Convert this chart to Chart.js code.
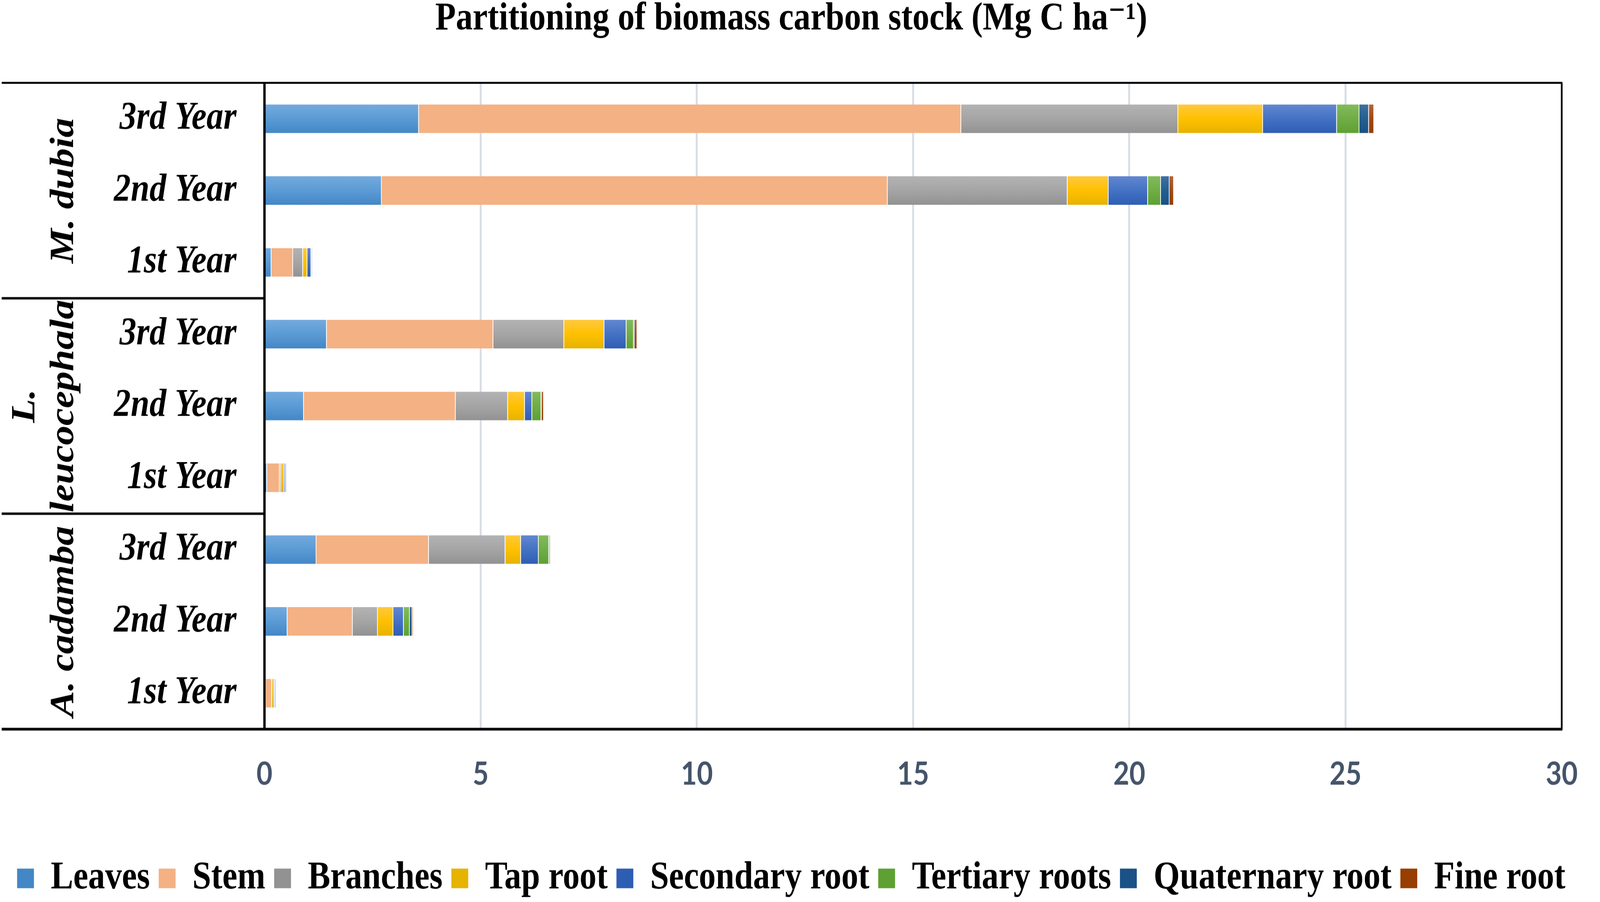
<!DOCTYPE html>
<html>
<head>
<meta charset="utf-8">
<title>Partitioning of biomass carbon stock</title>
<script src="https://cdn.jsdelivr.net/npm/chart.js@4.4.1/dist/chart.umd.min.js"></script>
<style>
  html, body { margin: 0; padding: 0; background: #fff; overflow: hidden; }
  #myChart { display: block; }
</style>
</head>
<body>
<canvas id="myChart" width="4749" height="2309"></canvas>
<script>
// rows top to bottom
var yearLabels = ['3rd Year', '2nd Year', '1st Year', '3rd Year', '2nd Year', '1st Year', '3rd Year', '2nd Year', '1st Year'];
var groupNames = [['M. dubia'], ['L.', 'leucocephala'], ['A. cadamba']];
var groupSizes = [3, 3, 3];
var xTicks = [0, 5, 10, 15, 20, 25, 30];

// Mg C / ha
var leaves     = [3.57, 2.71, 0.16, 1.44, 0.91, 0.06, 1.20, 0.53, 0.03];
var stem       = [12.54, 11.70, 0.50, 3.85, 3.51, 0.29, 2.60, 1.51, 0.14];
var branches   = [5.02, 4.16, 0.23, 1.64, 1.21, 0.03, 1.77, 0.58, 0.01];
var tapRoot    = [1.96, 0.95, 0.10, 0.93, 0.39, 0.08, 0.36, 0.36, 0.05];
var secondary  = [1.71, 0.91, 0.09, 0.51, 0.17, 0.02, 0.41, 0.24, 0.01];
var tertiary   = [0.52, 0.30, 0.01, 0.17, 0.21, 0.02, 0.24, 0.14, 0.005];
var quaternary = [0.22, 0.20, 0.01, 0.02, 0.01, 0.005, 0.01, 0.06, 0.01];
var fineRoot   = [0.12, 0.10, 0.005, 0.06, 0.05, 0.005, 0.02, 0.02, 0.005];

var serif = "'Liberation Serif', 'Times New Roman', 'DejaVu Serif', serif";

// chart is laid out on a 4749 x 2309 canvas, then the canvas is fitted to the window
var canvas = document.getElementById('myChart');
canvas.style.width = window.innerWidth + 'px';
canvas.style.height = window.innerHeight + 'px';
var ratio = (window.devicePixelRatio || 1) * window.innerWidth / 4749;

// light top, base, dark bottom (office style gradient fill)
function barFill(colors) {
    return function (ctx) {
        let chart = ctx.chart;
        if (ctx.type !== 'data' || !chart.chartArea || !chart.scales.y) return colors[1];
        let y = chart.scales.y;
        let step = y.getPixelForValue(1) - y.getPixelForValue(0);
        let c = y.getPixelForValue(ctx.dataIndex);
        let h = step * 0.4 / 2;
        let g = chart.ctx.createLinearGradient(0, c - h, 0, c + h);
        g.addColorStop(0, colors[0]);
        g.addColorStop(0.5, colors[1]);
        g.addColorStop(1, colors[2]);
        return g;
    };
}

function makeSet(label, data, colors) {
    return {
        label: label,
        data: data,
        backgroundColor: barFill(colors),
        borderColor: '#ffffff',
        borderWidth: {left: 0, right: 2, top: 0, bottom: 0},
        borderSkipped: 'start'
    };
}

var groupBoxes = {
    id: 'groupBoxes',
    afterDraw(chart) {
        let ctx = chart.ctx;
        let a = chart.chartArea;
        let y = chart.scales.y;
        ctx.save();
        ctx.strokeStyle = '#000';

        ctx.lineWidth = 5;
        ctx.beginPath();
        ctx.moveTo(5, a.top); ctx.lineTo(a.right + 2, a.top);
        ctx.moveTo(a.right, a.top); ctx.lineTo(a.right, a.bottom);
        ctx.stroke();

        ctx.lineWidth = 7;
        ctx.beginPath();
        ctx.moveTo(5, a.bottom); ctx.lineTo(a.right + 2, a.bottom);
        ctx.moveTo(a.left, a.top); ctx.lineTo(a.left, a.bottom);
        ctx.stroke();

        // separators and group names
        ctx.lineWidth = 6;
        let start = 0;
        ctx.fillStyle = '#000';
        ctx.font = 'italic bold 100px ' + serif;
        ctx.textAlign = 'center';
        ctx.textBaseline = 'alphabetic';
        groupSizes.forEach((n, gi) => {
            let end = start + n - 1;
            let mid = (y.getPixelForValue(start) + y.getPixelForValue(end)) / 2;
            let lines = groupNames[gi];
            lines.forEach((txt, li) => {
                let bx = 217 - (lines.length - 1 - li) * 115;
                ctx.save();
                ctx.translate(bx, mid);
                ctx.rotate(-Math.PI / 2);
                ctx.fillText(txt, 0, 0);
                ctx.restore();
            });
            if (gi < groupSizes.length - 1) {
                let sy = (y.getPixelForValue(end) + y.getPixelForValue(end + 1)) / 2;
                ctx.beginPath();
                ctx.moveTo(5, sy); ctx.lineTo(a.left, sy);
                ctx.stroke();
            }
            start += n;
        });
        ctx.restore();
    }
};

var ctx = canvas.getContext('2d');
window.myChart = new Chart(ctx, {
    type: 'bar',
    data: {
        labels: yearLabels,
        datasets: [
            makeSet('Leaves', leaves, ['#74AADE', '#5B9BD5', '#4487C6']),
            makeSet('Stem', stem, ['#F4B183', '#F4B183', '#F4B183']),
            makeSet('Branches', branches, ['#B3B3B3', '#A5A5A5', '#929292']),
            makeSet('Tap root', tapRoot, ['#FFC93F', '#FFC000', '#E6B300']),
            makeSet('Secondary root', secondary, ['#6287D0', '#4472C4', '#2E5DB4']),
            makeSet('Tertiary roots', tertiary, ['#82BB5C', '#70AD47', '#5EA032']),
            makeSet('Quaternary root', quaternary, ['#41709F', '#255E91', '#1A5186']),
            makeSet('Fine root', fineRoot, ['#B6653B', '#A04A12', '#973E00'])
        ]
    },
    options: {
        indexAxis: 'y',
        responsive: false,
        devicePixelRatio: ratio,
        animation: false,
        datasets: {
            bar: {categoryPercentage: 1, barPercentage: 0.4}
        },
        layout: {
            padding: {left: 0, right: 52, top: 0, bottom: 1}
        },
        scales: {
            x: {
                type: 'linear',
                position: 'bottom',
                stacked: true,
                min: 0,
                max: 30,
                afterBuildTicks: (scale) => { scale.ticks = xTicks.map(v => ({value: v})); },
                afterFit: (scale) => { scale.height = 306; },
                grid: {color: '#D9DEE7', lineWidth: 6, drawTicks: false},
                border: {display: false},
                ticks: {
                    padding: 66,
                    maxRotation: 0,
                    color: '#44546A',
                    font: {family: "Lato, 'Liberation Sans', sans-serif", size: 82, weight: 'bold'}
                }
            },
            y: {
                stacked: true,
                afterFit: (scale) => { scale.width = 785; },
                grid: {display: false, drawTicks: false},
                border: {display: false},
                ticks: {
                    padding: 83,
                    color: '#000',
                    font: {family: serif, size: 100, weight: 'bold', style: 'italic'}
                }
            }
        },
        plugins: {
            title: {
                display: true,
                text: 'Partitioning of biomass carbon stock (Mg C ha\u207B\u00B9)',
                color: '#000',
                font: {family: serif, size: 100, weight: 'bold', lineHeight: 1},
                padding: {top: 0, bottom: 112}
            },
            legend: {
                position: 'bottom',
                labels: {
                    color: '#000',
                    boxWidth: 50,
                    boxHeight: 50,
                    padding: 26,
                    font: {family: serif, size: 100, weight: 'bold'},
                    generateLabels: (chart) => Chart.defaults.plugins.legend.labels.generateLabels(chart).map(l => {
                        l.lineWidth = 0;
                        return l;
                    })
                }
            },
            tooltip: {enabled: false}
        }
    },
    plugins: [groupBoxes]
});
</script>
</body>
</html>
